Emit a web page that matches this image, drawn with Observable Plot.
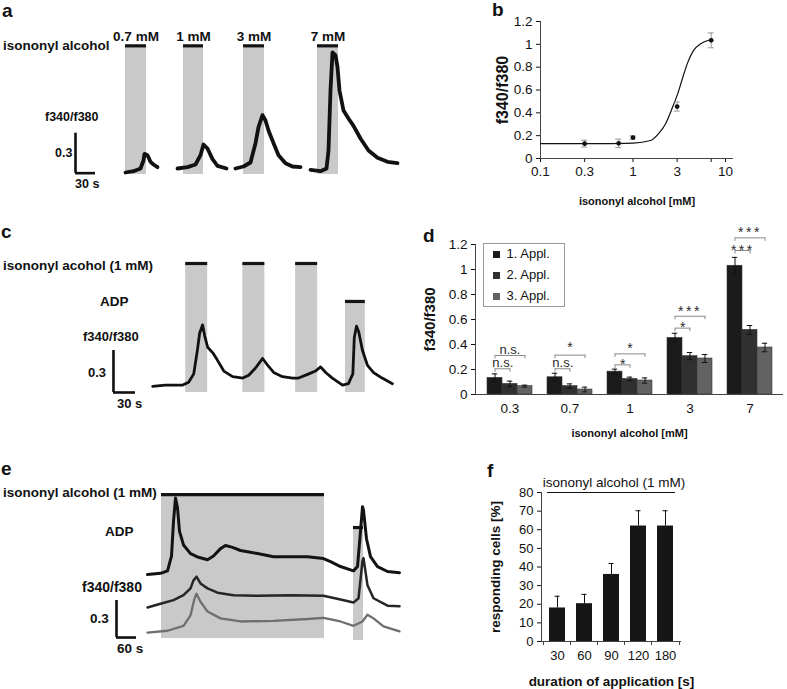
<!DOCTYPE html>
<html>
<head>
<meta charset="utf-8">
<script src="https://cdn.jsdelivr.net/npm/d3@7"></script>
<script src="https://cdn.jsdelivr.net/npm/@observablehq/plot@0.6"></script>
<style>
  body { margin: 0; background: #fff; }
  #fig { position: relative; width: 787px; height: 689px; overflow: hidden; background: #fff;
         font-family: "Liberation Sans", Arial, sans-serif; color: #111; }
  .abs { position: absolute; white-space: nowrap; line-height: 1; }
  .pl { position: absolute; }
  #pb g[aria-label="y-axis label"] text { font-size: 16px; font-weight: bold; }
  #pb g[aria-label="x-axis label"] text { font-size: 11px; font-weight: bold; }
  #pd g[aria-label="y-axis label"] text { font-size: 15px; font-weight: bold; }
  #pd g[aria-label="x-axis label"] text { font-size: 11px; font-weight: bold; }
  #pf g[aria-label="y-axis label"] text { font-size: 13.5px; font-weight: bold; }
  #pf g[aria-label="x-axis label"] text { font-size: 13.5px; font-weight: bold; }
  #legd { position: absolute; left: 483px; top: 243px; width: 82px; height: 64px; border: 1px solid #9a9a9a;
          background: #fff; box-sizing: border-box; padding: 0 0 0 9px; }
  #legd, #legd * { font-family: "Liberation Sans", Arial, sans-serif !important; font-size: 13px !important; color: #111;
                   line-height: 20px !important; }
  #legd > div { margin: 0 !important; }
</style>
</head>
<body>
<div id="fig"></div>
<script>
// ---------------- DATA ----------------
// Panel a: Ca2+ traces (time s, f340/f380 change) for 4 concentrations
const aStimLabel = ["0.7 mM", "1 mM", "3 mM", "7 mM"];
const aStimStart = [7.5, 94.5, 184.5, 295.5];
const aStimEnd   = [39, 124.5, 216, 327];
const aTrace07 = [[7.5,0],[19.5,0.01],[30,0.03],[34.5,0.09],[36,0.14],[40.5,0.13],[45,0.08],[49.5,0.06],[55.5,0.04]];
const aTrace1  = [[85.5,0.03],[100.5,0.04],[112.5,0.06],[120,0.13],[124.5,0.21],[130.5,0.18],[138,0.1],[145.5,0.05],[159,0.03]];
const aTrace3  = [[172.5,0.03],[184.5,0.045],[195,0.075],[202.5,0.22],[207,0.34],[213,0.43],[217.5,0.39],[222,0.315],[229.5,0.22],[237,0.13],[247.5,0.07],[258,0.045],[270,0.04]];
const aTrace7  = [[285,0.02],[300,0.01],[309,0.03],[312,0.165],[315,0.615],[318,0.9],[322.5,0.88],[325.5,0.79],[328.5,0.615],[334.5,0.465],[342,0.405],[349.5,0.35],[360,0.255],[372,0.165],[385.5,0.11],[400.5,0.08],[415.5,0.07]];

// Panel b: dose-response
const bConc = [0.3, 0.7, 1, 3, 7];
const bMean = [0.13, 0.133, 0.183, 0.455, 1.035];
const bErr  = [0.03, 0.037, 0.015, 0.04, 0.065];
const bFitX = [0.1, 0.45, 1, 1.55, 1.9, 2.25, 2.65, 3.05, 3.45, 3.9, 4.5, 5.4, 6.9];
const bFitY = [0.13, 0.131, 0.135, 0.158, 0.22, 0.305, 0.44, 0.57, 0.71, 0.84, 0.945, 1.005, 1.04];
const bTicksX = [0.1, 0.3, 1, 3, 7, 10];
const bTicksY = [0, 0.2, 0.4, 0.6, 0.8, 1, 1.2];

// Panel c: repeated 1 mM applications + ADP
const cStimStart = [48, 126, 198, 266];
const cStimEnd   = [78, 156, 228, 293];
const cStimKind  = ["alcohol", "alcohol", "alcohol", "ADP"];
const cTrace = [[3,0],[20,0.01],[44,0.01],[52,0.03],[59,0.09],[64,0.26],[67,0.38],[71,0.44],[74,0.36],[78,0.28],[85,0.24],[91,0.19],[100,0.11],[112,0.07],[126,0.06],[134,0.08],[143,0.13],[153,0.2],[160,0.15],[168,0.1],[180,0.07],[194,0.06],[202,0.06],[216,0.09],[225,0.11],[232,0.14],[239,0.1],[248,0.06],[262,0.01],[270,0.02],[276,0.09],[278,0.35],[281,0.43],[284,0.39],[289,0.26],[296,0.15],[304,0.1],[316,0.06],[330,0.02]];

// Panel d: three applications per concentration
const dConc = ["0.3", "0.7", "1", "3", "7"];
const dAppl = ["1. Appl.", "2. Appl.", "3. Appl."];
const dMean1 = [0.133, 0.138, 0.183, 0.453, 1.03];
const dMean2 = [0.085, 0.067, 0.125, 0.307, 0.517];
const dMean3 = [0.067, 0.04, 0.112, 0.288, 0.376];
const dErr1 = [0.032, 0.032, 0.02, 0.037, 0.067];
const dErr2 = [0.022, 0.018, 0.014, 0.029, 0.035];
const dErr3 = [0.008, 0.019, 0.021, 0.032, 0.034];
const dTicksY = [0, 0.2, 0.4, 0.6, 0.8, 1, 1.2];
const dSigConc  = ["0.3", "0.3", "0.7", "0.7", "1", "1", "3", "3", "7", "7"];
const dSigTo    = ["2. Appl.", "3. Appl.", "2. Appl.", "3. Appl.", "2. Appl.", "3. Appl.", "2. Appl.", "3. Appl.", "2. Appl.", "3. Appl."];
const dSigLabel = ["n.s.", "n.s.", "n.s.", "*", "*", "*", "*", "***", "***", "***"];
const dSigLevel = [0.206, 0.312, 0.206, 0.315, 0.237, 0.325, 0.531, 0.626, 1.152, 1.253];

// Panel e: long application, three cells
const eStimStart = [42, 618];
const eStimEnd   = [531, 648];
const eTrace1 = [[0,0],[39,0.01],[60,0.03],[72,0.15],[78,0.43],[84,0.62],[90,0.54],[96,0.35],[108,0.24],[129,0.17],[153,0.14],[180,0.12],[198,0.15],[219,0.21],[234,0.235],[255,0.22],[279,0.195],[330,0.17],[378,0.145],[429,0.145],[480,0.145],[528,0.13],[549,0.105],[579,0.065],[618,0.03],[630,0.065],[639,0.35],[645,0.55],[648,0.52],[657,0.29],[669,0.145],[690,0.065],[720,0.025],[756,0.015]];
const eTrace2 = [[0,0],[39,0.03],[78,0.06],[108,0.1],[129,0.155],[138,0.22],[147,0.25],[159,0.195],[180,0.155],[210,0.12],[258,0.1],[330,0.095],[429,0.1],[528,0.095],[579,0.065],[618,0.04],[633,0.075],[645,0.38],[648,0.4],[660,0.18],[678,0.075],[720,0.015],[756,0.01]];
const eTrace3 = [[0,0],[60,0.015],[108,0.055],[129,0.14],[141,0.275],[147,0.315],[159,0.25],[180,0.17],[219,0.115],[279,0.09],[378,0.095],[480,0.11],[528,0.12],[579,0.09],[618,0.055],[645,0.09],[660,0.145],[678,0.115],[708,0.05],[756,0.01]];

// Panel f: responding cells vs duration
const fDur = ["30", "60", "90", "120", "180"];
const fPct = [18, 20.3, 36, 62, 62];
const fErr = [6.3, 5, 5.9, 8.2, 8.2];
const fTicksY = [0, 10, 20, 30, 40, 50, 60, 70, 80];

// ---------------- RENDER ----------------
const FONT = '"Liberation Sans", Arial, sans-serif';
const fig = document.getElementById("fig");

function place(node, left, top, id) {
  const d = document.createElement("div");
  d.className = "pl";
  if (id) d.id = id;
  d.style.left = left + "px";
  d.style.top = top + "px";
  d.appendChild(node);
  fig.appendChild(d);
  return d;
}
function label(txt, x, baseline, size, opts = {}) {
  const el = document.createElement("div");
  el.className = "abs";
  el.textContent = txt;
  el.style.fontSize = size + "px";
  el.style.fontWeight = opts.normal ? "normal" : "bold";
  el.style.top = (baseline - 0.85 * size) + "px";
  if (opts.anchor === "middle") { el.style.left = x + "px"; el.style.transform = "translateX(-50%)"; }
  else el.style.left = x + "px";
  fig.appendChild(el);
  return el;
}

function tracePanel({left, top, width, height, xDomain, yDomain, stims, traces, scaleBar}) {
  const marks = [
    Plot.rect(stims, {x1: "start", x2: "end", y1: "bottom", y2: "top", fill: "#c9c9c9"}),
    Plot.ruleY(stims, {y: "top", x1: "start", x2: "end", stroke: "#141414", strokeWidth: 3.2})
  ];
  const labelled = stims.filter(s => s.label);
  if (labelled.length) marks.push(Plot.text(labelled, {
    x: s => (s.start + s.end) / 2, y: "top", text: "label", lineAnchor: "bottom", dy: -5,
    fontWeight: "bold", fontSize: 13.5, fill: "#111"
  }));
  for (const tr of traces) {
    marks.push(Plot.line(tr.points, {
      x: d => d[0], y: d => d[1] + tr.offset, stroke: tr.color, strokeWidth: tr.width,
      strokeLinejoin: "round", strokeLinecap: "round"
    }));
  }
  marks.push(Plot.ruleX([scaleBar], {x: "t", y1: "v", y2: d => d.v + d.dv, stroke: "#111", strokeWidth: 2.6}));
  marks.push(Plot.ruleY([scaleBar], {y: "v", x1: "t", x2: d => d.t + d.dt, stroke: "#111", strokeWidth: 2.6}));
  const p = Plot.plot({
    width, height, margin: 0,
    x: {domain: xDomain, axis: null},
    y: {domain: yDomain, axis: null},
    style: {background: "transparent", overflow: "visible", fontFamily: FONT},
    marks
  });
  place(p, left, top);
}

// ---- Panel a ----
tracePanel({
  left: 0, top: 0, width: 420, height: 200,
  xDomain: [-180, 450], yDomain: [-0.21, 1.29],
  stims: aStimLabel.map((l, i) => ({label: l, start: aStimStart[i], end: aStimEnd[i], top: 0.95, bottom: -0.015})),
  traces: [aTrace07, aTrace1, aTrace3, aTrace7].map(p => ({points: p, offset: 0, color: "#111", width: 3.8})),
  scaleBar: {t: -67.5, v: -0.005, dt: 30, dv: 0.3}
});

// ---- Panel c ----
tracePanel({
  left: 0, top: 220, width: 420, height: 200,
  xDomain: [-204.6, 368.3], yDomain: [-0.243, 1.185],
  stims: cStimStart.map((s, i) => ({start: s, end: cStimEnd[i], top: cStimKind[i] === "ADP" ? 0.607 : 0.878, bottom: -0.043})),
  traces: [{points: cTrace, offset: 0, color: "#111", width: 2.8}],
  scaleBar: {t: -50.5, v: -0.043, dt: 30, dv: 0.3}
});

// ---- Panel e ----
tracePanel({
  left: 0, top: 450, width: 420, height: 239,
  xDomain: [-441, 819], yDomain: [-0.421, 1.515],
  stims: [{start: eStimStart[0], end: eStimEnd[0], top: 1.158, bottom: -0.008},
          {start: eStimStart[1], end: eStimEnd[1], top: 0.891, bottom: -0.024}],
  traces: [
    {points: eTrace1, offset: 0.51, color: "#131313", width: 3},
    {points: eTrace2, offset: 0.243, color: "#262626", width: 2.5},
    {points: eTrace3, offset: 0.04, color: "#6f6f6f", width: 2.3}
  ],
  scaleBar: {t: -93, v: 0, dt: 60, dv: 0.3}
});

// ---- Panel b ----
{
  const pts = bConc.map((c, i) => ({c, m: bMean[i], e: bErr[i]}));
  const fit = bFitX.map((x, i) => ({x, y: bFitY[i]}));
  const p = Plot.plot({
    width: 347, height: 220, marginLeft: 100, marginTop: 21, marginBottom: 62, marginRight: 54,
    style: {background: "transparent", overflow: "visible", fontFamily: FONT, fontSize: "13.5px", color: "#111"},
    x: {type: "log", domain: [0.1, 12.2], ticks: bTicksX, tickFormat: d => String(d), tickSize: 4, tickPadding: 4,
        label: "isononyl alcohol [mM]", labelAnchor: "center", labelOffset: 46, labelArrow: false},
    y: {domain: [0, 1.2], ticks: bTicksY, tickFormat: d3.format("~g"), tickSize: 4, tickPadding: 4,
        label: "f340/f380", labelAnchor: "center", labelOffset: 44, labelArrow: false},
    marks: [
      Plot.ruleY([0], {stroke: "#444"}),
      Plot.ruleX([0.1], {stroke: "#444"}),
      Plot.line(fit, {x: "x", y: "y", curve: "monotone-x", stroke: "#111", strokeWidth: 1.2}),
      Plot.ruleX(pts, {x: "c", y1: d => d.m - d.e, y2: d => d.m + d.e, stroke: "#999"}),
      Plot.ruleY(pts, {y: d => d.m + d.e, x1: "c", x2: "c", insetLeft: -3, insetRight: -3, stroke: "#999"}),
      Plot.ruleY(pts, {y: d => d.m - d.e, x1: "c", x2: "c", insetLeft: -3, insetRight: -3, stroke: "#999"}),
      Plot.dot(pts, {x: "c", y: "m", r: 2.4, fill: "#111"})
    ]
  });
  place(p, 440, 0, "pb");
}

// ---- Panel d ----
{
  const means = [dMean1, dMean2, dMean3], errs = [dErr1, dErr2, dErr3];
  const rows = [];
  dConc.forEach((c, i) => dAppl.forEach((a, j) => rows.push({conc: c, appl: a, key: c + "|" + a, v: means[j][i], e: errs[j][i]})));
  const keys = [];
  dConc.forEach((c, i) => { if (i) keys.push("gap" + i); dAppl.forEach(a => keys.push(c + "|" + a)); });
  const sig = dSigConc.map((c, i) => ({conc: c, to: dSigTo[i], label: dSigLabel[i], level: dSigLevel[i]}));
  const bw = 308 / (keys.length + 0.7);
  const shortLabel = c => sig.find(s => s.conc === c && s.to === "2. Appl.").label;
  const sigText = sig.map(s => {
    const isShort = s.to === "2. Appl.";
    let dy;
    if (s.label === "n.s.") dy = -1.5;
    else if (isShort) dy = 4;
    else dy = shortLabel(s.conc) === "n.s." ? -3 : -0.5;
    return Plot.text([s], {
      x: d => d.to === "2. Appl." ? d.conc + "|1. Appl." : d.conc + "|2. Appl.",
      dx: isShort ? bw / 2 : 0,
      y: "level", text: "label", lineAnchor: "bottom",
      dy, fontSize: s.label === "n.s." ? 13 : 14, fill: "#2a2a2a"
    });
  });
  const p = Plot.plot({
    width: 367, height: 230, marginLeft: 55, marginTop: 24, marginBottom: 56, marginRight: 4,
    style: {background: "transparent", overflow: "visible", fontFamily: FONT, fontSize: "13.5px", color: "#111"},
    x: {type: "band", domain: keys, paddingInner: 0, paddingOuter: 0.35,
        ticks: dConc.map(c => c + "|2. Appl."), tickFormat: k => k.split("|")[0], tickSize: 0, tickPadding: 9,
        label: "isononyl alcohol [mM]", labelAnchor: "center", labelOffset: 42},
    y: {domain: [0, 1.2], ticks: dTicksY, tickFormat: d3.format("~g"), tickSize: 4, tickPadding: 4,
        label: "f340/f380", labelAnchor: "center", labelOffset: 51, labelArrow: false},
    color: {domain: dAppl, range: ["#1b1b1b", "#303030", "#626262"]},
    marks: [
      Plot.barY(rows, {x: "key", y: "v", fill: "appl", stroke: "#3a3a3a", strokeWidth: 0.6}),
      Plot.ruleX(rows, {x: "key", y1: d => d.v - d.e, y2: d => d.v + d.e, stroke: "#111"}),
      Plot.tickY(rows, {x: "key", y: d => d.v + d.e, insetLeft: 4.8, insetRight: 4.8, stroke: "#111"}),
      Plot.tickY(rows, {x: "key", y: d => d.v - d.e, insetLeft: 4.8, insetRight: 4.8, stroke: "#111"}),
      Plot.ruleY([0], {stroke: "#444"}),
      Plot.frame({anchor: "left", stroke: "#444"}),
      Plot.link(sig, {x1: d => d.conc + "|1. Appl.", x2: d => d.conc + "|" + d.to, y1: "level", y2: "level", stroke: "#8a8a8a"}),
      Plot.ruleX(sig, {x: d => d.conc + "|1. Appl.", y1: "level", y2: d => d.level - 0.028, stroke: "#8a8a8a"}),
      Plot.ruleX(sig, {x: d => d.conc + "|" + d.to, y1: "level", y2: d => d.level - 0.028, stroke: "#8a8a8a"}),
      ...sigText
    ]
  });
  d3.select(p).selectAll("text").filter(function () { return this.textContent === "***"; }).attr("letter-spacing", "2.5px");
  place(p, 420, 220, "pd");
  const lg = p.legend("color", {columns: 1, swatchSize: 7});
  const box = document.createElement("div");
  box.id = "legd";
  box.appendChild(lg);
  fig.appendChild(box);
}

// ---- Panel f ----
{
  const rows = fDur.map((d, i) => ({dur: d, pct: fPct[i], err: fErr[i]}));
  const step = 140 / (fDur.length - 0.39 + 0.4);
  const p = Plot.plot({
    width: 317, height: 249, marginLeft: 71, marginTop: 52, marginBottom: 48, marginRight: 106,
    style: {background: "transparent", overflow: "visible", fontFamily: FONT, fontSize: "13px", color: "#111"},
    x: {type: "band", domain: fDur, paddingInner: 0.39, paddingOuter: 0.2, tickSize: 0, tickPadding: 9,
        label: "duration of application [s]", labelAnchor: "center", labelOffset: 44},
    y: {domain: [0, 80], ticks: fTicksY, tickSize: 4, tickPadding: 4,
        label: "responding cells [%]", labelAnchor: "center", labelOffset: 51, labelArrow: false},
    marks: [
      Plot.barY(rows, {x: "dur", y: "pct", fill: "#161616"}),
      Plot.ruleX(rows, {x: "dur", y1: "pct", y2: d => d.pct + d.err, stroke: "#111"}),
      Plot.tickY(rows, {x: "dur", y: d => d.pct + d.err, insetLeft: 5.5, insetRight: 5.5, stroke: "#111"}),
      Plot.ruleY([0], {stroke: "#444"}),
      Plot.frame({anchor: "left", stroke: "#444"}),
      Plot.ruleX(rows, {x: "dur", dx: -step / 2, y1: 0, y2: -2.2, stroke: "#444"}),
      Plot.ruleX(rows.slice(-1), {x: "dur", dx: step / 2, y1: 0, y2: -2.2, stroke: "#444"})
    ]
  });
  place(p, 470, 440, "pf");
}

// ---- Annotation text ----
label("a", 2, 17, 19); label("b", 492, 16, 19); label("c", 1, 238, 19);
label("d", 423, 242, 19); label("e", 1, 475, 19); label("f", 487, 477, 19);

label("isononyl alcohol", 3, 50, 13.5);
label("f340/f380", 45, 122, 12.5);
label("0.3", 55, 158, 12.5);
label("30 s", 75, 189, 12.5);

label("isononyl acohol (1 mM)", 3, 270, 13.5);
label("ADP", 100, 306, 13.5);
label("f340/f380", 83, 341, 13);
label("0.3", 88, 377, 13);
label("30 s", 117, 408, 13);

label("isononyl alcohol (1 mM)", 3, 497, 13.5);
label("ADP", 105, 536, 13.5);
label("f340/f380", 82, 592, 14);
label("0.3", 90, 623, 13.5);
label("60 s", 117, 653, 13.5);

label("isononyl alcohol (1 mM)", 614, 487, 13.5, {normal: true, anchor: "middle"});
{
  const ln = document.createElement("div");
  ln.className = "abs";
  ln.style.left = "547px"; ln.style.top = "492px"; ln.style.width = "128px"; ln.style.height = "0";
  ln.style.borderTop = "1.3px solid #111";
  fig.appendChild(ln);
}
</script>
</body>
</html>
